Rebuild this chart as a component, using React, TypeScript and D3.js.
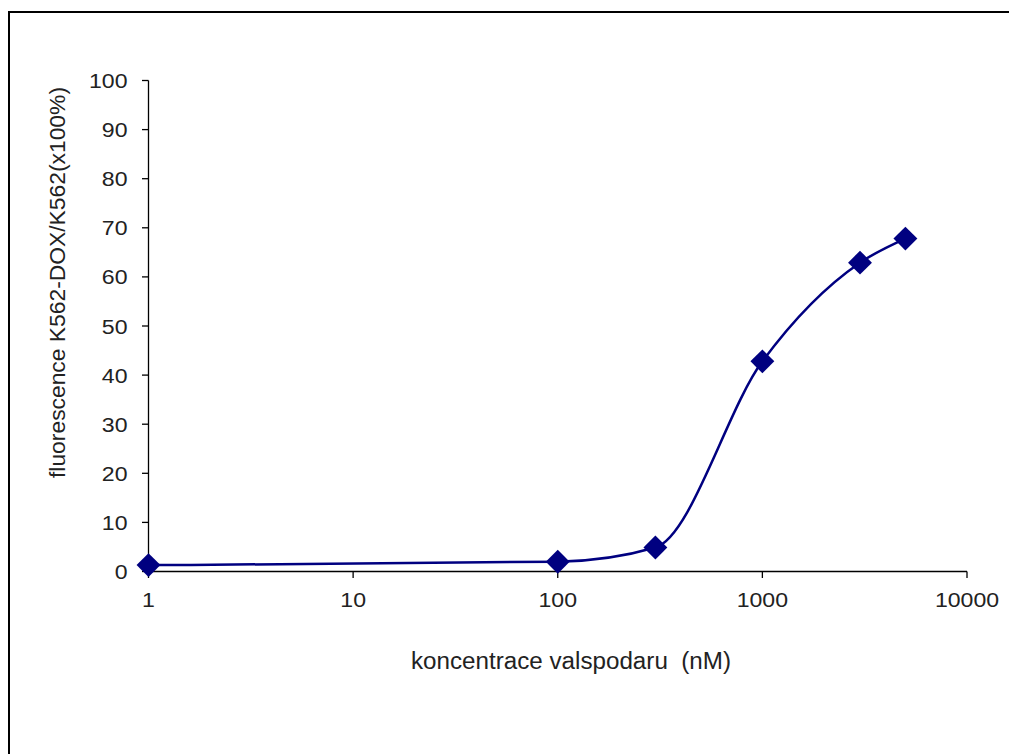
import React from "react";
import * as d3 from "d3";

// Valspodar concentration (nM) vs. relative fluorescence (%)
const concentrations = [1, 100, 300, 1000, 3000, 5000];
const fluorescence = [1.3, 2.0, 4.9, 42.8, 62.9, 67.8];
const xTickValues = [1, 10, 100, 1000, 10000];
const yTickValues = [0, 10, 20, 30, 40, 50, 60, 70, 80, 90, 100];

const W = 1009;
const H = 754;
const FONT = "'Liberation Sans', Arial, sans-serif";
const TEXT = "#222";

export default function App() {
  const x = d3.scaleLog().domain([1, 10000]).range([148.5, 967]);
  const y = d3.scaleLinear().domain([0, 100]).range([571.5, 80.5]);

  const pts: [number, number][] = concentrations.map((c, i) => [x(c), y(fluorescence[i])]);
  const line = d3.line().curve(d3.curveMonotoneX);
  const path = line(pts) || "";

  const diamond = d3.symbol().type(d3.symbolDiamond2).size(2 * 13.5 * 13.5)() || "";

  return (
    <div style={{ position: "absolute", left: 0, top: 0 }}>
      <svg width={W} height={H} style={{ display: "block" }}>
        <rect x={0} y={0} width={W} height={H} fill="#fff" />
        {/* chart area border */}
        <rect x={9} y={12} width={W + 20} height={H + 20} fill="none" stroke="#000" strokeWidth={2} />

        {/* y axis */}
        <line x1={148.5} x2={148.5} y1={y(100)} y2={y(0)} stroke="#000" strokeWidth={1.3} />
        {yTickValues.map((v) => (
          <g key={"y" + v}>
            <line x1={142} x2={148.5} y1={y(v)} y2={y(v)} stroke="#000" strokeWidth={1.3} />
            <text
              transform={`translate(127.5,${y(v)}) scale(1.1,1)`}
              dy="0.36em"
              textAnchor="end"
              fontFamily={FONT}
              fontSize={21}
              fill={TEXT}
            >
              {v}
            </text>
          </g>
        ))}

        {/* x axis */}
        <line x1={x(1)} x2={x(10000)} y1={571.5} y2={571.5} stroke="#000" strokeWidth={1.3} />
        {xTickValues.map((v) => (
          <g key={"x" + v}>
            <line x1={x(v)} x2={x(v)} y1={571.5} y2={578} stroke="#000" strokeWidth={1.3} />
            <text
              transform={`translate(${x(v)},607) scale(1.1,1)`}
              textAnchor="middle"
              fontFamily={FONT}
              fontSize={21}
              fill={TEXT}
            >
              {v}
            </text>
          </g>
        ))}

        {/* series */}
        <path d={path} fill="none" stroke="#000080" strokeWidth={2.5} />
        {pts.map(([px, py], i) => (
          <path key={"m" + i} d={diamond} transform={`translate(${px},${py})`} fill="#000080" />
        ))}

        {/* axis titles */}
        <text
          x={411}
          y={669}
          fontFamily={FONT}
          fontSize={23}
          fill={TEXT}
          textLength={320}
          lengthAdjust="spacingAndGlyphs"
          style={{ whiteSpace: "pre" }}
        >
          {"koncentrace valspodaru  (nM)"}
        </text>
        <text
          transform={`translate(64.5,478) rotate(-90)`}
          fontFamily={FONT}
          fontSize={21.5}
          fill={TEXT}
          textLength={391}
          lengthAdjust="spacingAndGlyphs"
        >
          fluorescence K562-DOX/K562(x100%)
        </text>
      </svg>
    </div>
  );
}
